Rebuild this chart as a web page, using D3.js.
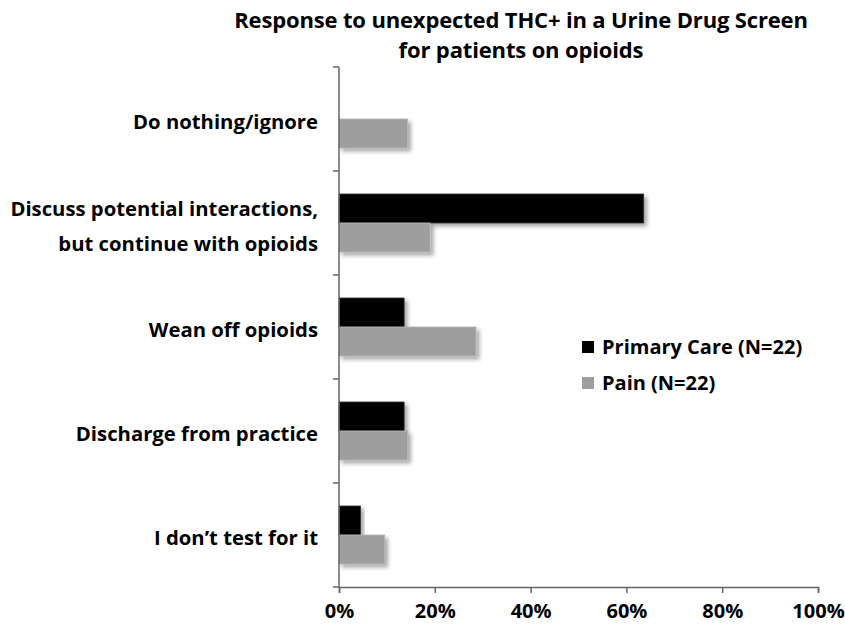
<!DOCTYPE html>
<html><head><meta charset="utf-8">
<script src="https://cdn.jsdelivr.net/npm/d3@7"></script>
<style>body{margin:0;background:#fff}svg{display:block}text{font-family:"Open Sans",sans-serif;font-weight:bold;fill:#000}</style>
</head><body><svg id="c" width="845" height="626"></svg>
<script>
const categories = ["Do nothing/ignore", "Discuss potential interactions,|but continue with opioids", "Wean off opioids", "Discharge from practice", "I don\u2019t test for it"];
const primaryCare = [0, 63.6, 13.6, 13.6, 4.5];
const pain = [14.3, 19.0, 28.6, 14.3, 9.5];
const seriesNames = ["Primary Care (N=22)", "Pain (N=22)"];
const xTicks = [0, 20, 40, 60, 80, 100];
const titleLines = ["Response to unexpected THC+ in a Urine Drug Screen", "for patients on opioids"];

const svg = d3.select("#c");
const colors = ["#000000", "#9e9e9e"];
const L = 339, R = 818, T = 67, B = 587;
const x = d3.scaleLinear().domain([0, 100]).range([L, R]);
const y = d3.scaleBand().domain(categories).range([T, B]).padding(0);
const sub = d3.scaleBand().domain([0, 1]).range([-29, 29]).padding(0);

const defs = svg.append("defs");
const f = defs.append("filter").attr("id", "sh").attr("x", "-10%").attr("y", "-30%").attr("width", "130%").attr("height", "170%");
f.append("feDropShadow").attr("dx", 3).attr("dy", 3).attr("stdDeviation", 2.2).attr("flood-color", "#000").attr("flood-opacity", 0.35);

// title
svg.append("g").selectAll("text").data(titleLines).join("text")
  .attr("x", 521).attr("y", (d, i) => 28 + i * 30).attr("text-anchor", "middle")
  .style("font-size", "22px").style("letter-spacing", "-0.15px").text(d => d);

const series = [primaryCare, pain];
series.forEach((vals, si) => {
  svg.append("g").selectAll("rect").data(vals.map((v, i) => ({v, c: categories[i]}))).join("rect")
    .filter(d => d.v > 0)
    .attr("x", x(0)).attr("y", d => y(d.c) + y.bandwidth() / 2 + sub(si))
    .attr("width", d => x(d.v) - x(0)).attr("height", sub.bandwidth())
    .attr("fill", colors[si]).attr("stroke", si ? "#b4b4b4" : "#333").attr("stroke-width", 0.8)
    .attr("filter", "url(#sh)");
});

// y axis
const yAxisG = svg.append("g");
yAxisG.append("line").attr("x1", L).attr("x2", L).attr("y1", T).attr("y2", B).attr("stroke", "#666").attr("stroke-width", 1.5);
const bounds = categories.map(c => y(c)).concat([B]);
yAxisG.selectAll("line.t").data(bounds).join("line").attr("class", "t")
  .attr("x1", L - 6).attr("x2", L).attr("y1", d => d).attr("y2", d => d).attr("stroke", "#666").attr("stroke-width", 1.5);

// category labels
categories.forEach((c, i) => {
  const lines = c.split("|");
  const cy = y(c) + y.bandwidth() / 2 + 3;
  const t = svg.append("text").attr("text-anchor", "end").style("font-size", "20.3px");
  lines.forEach((ln, j) => {
    t.append("tspan").attr("x", 318).attr("y", cy + (j - (lines.length - 1) / 2) * 35 + 7).text(ln);
  });
});

// x axis
const xa = svg.append("g").attr("transform", `translate(0,${B})`)
  .call(d3.axisBottom(x).tickValues(xTicks).tickFormat(d => d + "%").tickSizeOuter(0).tickSize(6).tickPadding(11));
xa.select(".domain").attr("stroke", "#666").attr("stroke-width", 1.5);
xa.selectAll(".tick line").attr("stroke", "#666").attr("stroke-width", 1.5);
xa.selectAll(".tick text").style("font-size", "20px").style("font-family", "Open Sans").style("font-weight", "bold").attr("fill", "#000");

// legend
const lg = svg.append("g").attr("transform", "translate(582,341)");
seriesNames.forEach((n, i) => {
  const g = lg.append("g").attr("transform", `translate(0,${i * 36})`);
  g.append("rect").attr("width", 12).attr("height", 12).attr("fill", colors[i]);
  g.append("text").attr("x", 20).attr("y", 13).style("font-size", "20px").text(n);
});
</script></body></html>
